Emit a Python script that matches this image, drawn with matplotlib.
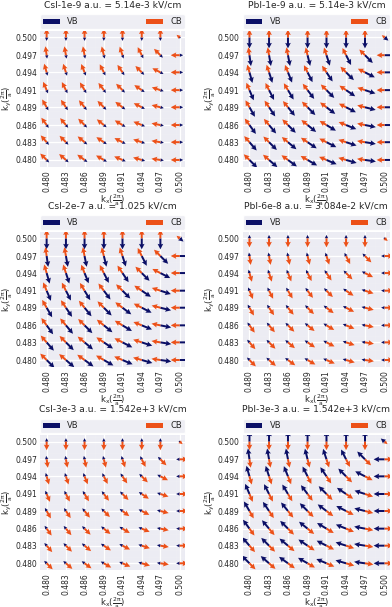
import numpy as np
import matplotlib
matplotlib.use("Agg")
import matplotlib.pyplot as plt
from matplotlib.ticker import FixedLocator, MultipleLocator

# ---------------- data ----------------
kx_vals = [0.4800, 0.4829, 0.4857, 0.4886, 0.4914, 0.4943, 0.4971, 0.5000]
ky_vals = [0.5000, 0.4971, 0.4943, 0.4914, 0.4886, 0.4857, 0.4829, 0.4800]  # top -> bottom
tick_labels = ["0.480", "0.483", "0.486", "0.489", "0.491", "0.494", "0.497", "0.500"]

# direction of the VB field (degrees, screen space), rows top (ky=0.500) -> bottom (ky=0.480)
direction_deg = [
    [-90, -90, -90, -90, -90, -90, -90, -40],
    [-82, -80, -79, -76, -72, -63, -45, 0],
    [-74, -72, -68, -63, -56, -45, -27, 0],
    [-67, -63, -59, -53, -45, -34, -18, 0],
    [-60, -56, -51, -45, -37, -27, -14, 0],
    [-54, -50, -45, -39, -31, -22, -11, 0],
    [-49, -45, -40, -34, -27, -18, -9, 0],
    [-45, -41, -36, -30, -23, -16, -8, 0],
]
# relative magnitude per grid point
rel_mag = [
    [1, 1, 1, 1, 1, 1, 1, 0.45],
    [1, 1, 1, 1, 1, 1, 1, 1],
    [1, 1, 1, 1, 1, 1, 1, 1],
    [1, 1, 1, 1, 1, 1, 1, 1],
    [1, 1, 1, 1, 1, 1, 1, 1],
    [1, 1, 1, 1, 1, 1, 1, 1],
    [1, 1, 1, 1, 1, 1, 1, 1],
    [1, 1, 1, 1, 1, 1, 1, 1],
]

titles = [
    "CsI-1e-9 a.u. = 5.14e-3 kV/cm",
    "PbI-1e-9 a.u. = 5.14e-3 kV/cm",
    "CsI-2e-7 a.u. = 1.025 kV/cm",
    "PbI-6e-8 a.u. = 3.084e-2 kV/cm",
    "CsI-3e-3 a.u. = 1.542e+3 kV/cm",
    "PbI-3e-3 a.u. = 1.542e+3 kV/cm",
]
# signed magnitudes (negative = opposite to the field direction)
vb_mag = [3.5, 11.0, 11.0, -3.5, -3.5, -11.0]
cb_mag = [-9.0, -8.0, -9.0, 9.0, 8.5, 8.5]

# ---------------- style ----------------
VB_COLOR = "#0b0f66"
CB_COLOR = "#ec5018"
BG = "#EAEAF2"
TXT = "#262626"

plt.rcParams.update({
    "font.family": ["DejaVu Sans"],
    "text.color": TXT,
    "axes.labelcolor": TXT,
    "xtick.color": TXT,
    "ytick.color": TXT,
    "mathtext.fontset": "dejavusans",
})

W, H = 392, 607
fig = plt.figure(figsize=(W / 100, H / 100), dpi=100)

col_x = [(40, 185), (242.7, 390)]
row_y = [(30.7, 166.7), (231.7, 366.7), (435, 570)]

KX, KY = np.meshgrid(np.array(kx_vals), np.array(ky_vals))
ang = np.deg2rad(np.array(direction_deg, dtype=float))
mag = np.array(rel_mag, dtype=float)

for i, title in enumerate(titles):
    r, c = divmod(i, 2)
    x0, x1 = col_x[c]
    y0, y1 = row_y[r]
    ax = fig.add_axes([x0 / W, 1 - y1 / H, (x1 - x0) / W, (y1 - y0) / H])
    ax.set_facecolor(BG)
    for s in ax.spines.values():
        s.set_visible(False)

    # fine background mesh + major white grid
    ax.xaxis.set_minor_locator(MultipleLocator(0.00029))
    ax.yaxis.set_minor_locator(MultipleLocator(0.00029))
    ax.grid(which="minor", color="white", linewidth=0.25, alpha=0.45)
    ax.grid(which="major", color="white", linewidth=0.9)
    ax.set_axisbelow(True)

    U_vb = vb_mag[i] * mag * np.cos(ang)
    V_vb = vb_mag[i] * mag * np.sin(ang)
    U_cb = cb_mag[i] * mag * np.cos(ang)
    V_cb = cb_mag[i] * mag * np.sin(ang)

    qkw = dict(angles="uv", scale_units="dots", scale=1.0, units="dots",
               width=2.0, headwidth=2.8, headlength=2.8, headaxislength=2.5,
               pivot="tail", zorder=3)
    ax.quiver(KX, KY, U_vb, V_vb, color=VB_COLOR, label="VB", **qkw)
    ax.quiver(KX, KY, U_cb, V_cb, color=CB_COLOR, label="CB", **qkw)

    ax.set_xlim(0.4790, 0.5008)
    ax.set_ylim(0.4789, 0.5011)
    ax.xaxis.set_major_locator(FixedLocator(kx_vals))
    ax.yaxis.set_major_locator(FixedLocator(kx_vals))
    ax.set_xticklabels(tick_labels, rotation=90)
    ax.set_yticklabels(tick_labels)
    ax.tick_params(which="both", length=0, labelsize=5.5, pad=2.2)

    ax.set_xlabel(r"$\mathregular{k_x(\frac{2\pi}{a})}$", fontsize=6.2)
    ax.xaxis.set_label_coords(0.5, -0.192)
    ax.set_ylabel(r"$\mathregular{k_y(\frac{2\pi}{a})}$", fontsize=6.2, labelpad=0.5)

    ax.legend(loc="lower left", bbox_to_anchor=(0, 1.012, 1, 0.1), mode="expand",
              ncol=2, borderaxespad=0, fontsize=6, frameon=True,
              facecolor=BG, edgecolor="white", framealpha=0.8,
              handlelength=2.0, handleheight=0.6, handletextpad=0.9, borderpad=0.35)
    ax.set_title(title, fontsize=6.6, pad=17)

fig.savefig("out.png", dpi=100, facecolor="white")
